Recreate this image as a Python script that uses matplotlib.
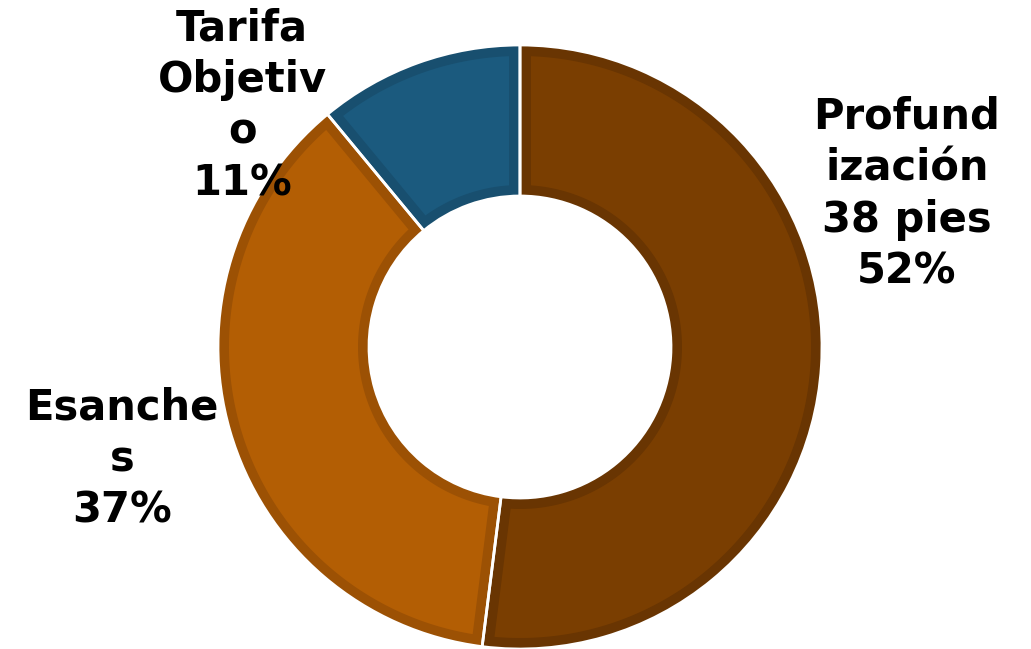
import numpy as np
import matplotlib.pyplot as plt
from matplotlib.patches import Polygon

labels = ['Profund\nización\n38 pies', 'Esanche\ns', 'Tarifa\nObjetiv\no']
shares = [52, 37, 11]
colors = ['#7a3e01', '#b35e04', '#1b5a7e']
borders = ['#693502', '#9c5104', '#184f6f']
label_pos = [(907, 194), (122, 459), (242, 106)]

W, H = 1031, 649
cx, cy, R = 520, 347, 302
ring = 0.5
inset = 11 / R  # border thickness in data units

fig = plt.figure(figsize=(W / 100, H / 100), dpi=100)
ax = fig.add_axes([0, 0, 1, 1])

# the full wedges carry the darker border colour
wedges, _ = ax.pie(shares, colors=borders, startangle=90, counterclock=False,
                   radius=1.0, wedgeprops=dict(width=ring, linewidth=0))


def inner_face(t1, t2, r_out, r_in, d):
    # wedge shrunk by d on every side (straight edges offset in parallel)
    ro, ri = r_out - d, r_in + d
    a1, a2 = np.radians(t1), np.radians(t2)
    to = np.linspace(a1 + np.arcsin(d / ro), a2 - np.arcsin(d / ro), 200)
    ti = np.linspace(a2 - np.arcsin(d / ri), a1 + np.arcsin(d / ri), 200)
    xs = np.concatenate([ro * np.cos(to), ri * np.cos(ti)])
    ys = np.concatenate([ro * np.sin(to), ri * np.sin(ti)])
    return np.column_stack([xs, ys])


for w, c in zip(wedges, colors):
    ax.add_patch(Polygon(inner_face(w.theta1, w.theta2, 1.0, 1.0 - ring, inset),
                         closed=True, facecolor=c, edgecolor='none', zorder=2))

# thin white gaps between segments
ax.pie(shares, colors=['none'] * 3, startangle=90, counterclock=False, radius=1.0,
       wedgeprops=dict(width=ring, linewidth=2.0, edgecolor='white', zorder=3))

ax.set_xlim(-cx / R, (W - cx) / R)
ax.set_ylim(-(H - cy) / R, cy / R)
ax.set_aspect('equal')
ax.axis('off')

for lab, s, (px, py) in zip(labels, shares, label_pos):
    x = (px - cx) / R
    y = (cy - py) / R
    ax.text(x, y, f'{lab}\n{s}%', ha='center', va='center', fontsize=30,
            fontweight='bold', family='DejaVu Sans', linespacing=1.3, color='black')

fig.savefig('out.png', dpi=100)
